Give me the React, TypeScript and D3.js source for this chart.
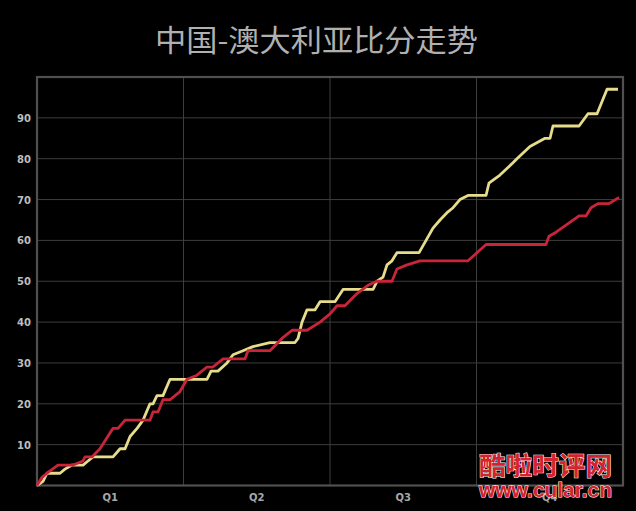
import * as d3 from 'd3';
import React, {useRef, useEffect} from 'react';

// game clock in minutes (4 x 10 min quarters), score at that moment
const ausTimes = [0, 0.41, 0.68, 1.57, 1.91, 2.39, 3.14, 3.48, 3.82, 5.19, 5.67, 6.01, 6.35, 6.83, 7.24, 7.71, 7.92, 8.19, 8.6, 9.08, 11.6, 11.88, 12.35, 12.97, 13.38, 14.06, 14.74, 15.9, 17.61, 17.82, 18.09, 18.43, 18.98, 19.32, 20.34, 20.89, 22.94, 23.21, 23.62, 23.89, 24.23, 24.57, 26.08, 27.03, 27.51, 28.05, 28.4, 28.87, 29.42, 30.65, 30.85, 31.6, 32.49, 32.76, 33.65, 34.68, 35.02, 35.22, 37.0, 37.61, 38.23, 38.91, 39.66];
const ausScores = [0, 1, 3, 3, 4, 5, 5, 6, 7, 7, 9, 9, 12, 14, 16, 20, 20, 22, 22, 26, 26, 28, 28, 30, 32, 33, 34, 35, 35, 36, 40, 43, 43, 45, 45, 48, 48, 50, 51, 54, 55, 57, 57, 63, 65, 67, 68, 70, 71, 71, 74, 76, 79, 80, 83, 85, 85, 88, 88, 91, 91, 97, 97];

const chnTimes = [0, 0.34, 0.68, 1.43, 2.46, 3.14, 3.28, 3.75, 4.3, 5.19, 5.53, 6.01, 7.71, 7.92, 8.26, 8.6, 9.08, 9.76, 10.24, 10.92, 11.6, 12.01, 12.7, 14.2, 14.4, 15.9, 16.72, 17.41, 18.43, 19.32, 20.0, 20.48, 21.02, 21.84, 22.59, 23.21, 24.23, 24.57, 25.26, 26.14, 29.42, 30.65, 34.74, 34.95, 35.43, 37.0, 37.47, 37.82, 38.29, 39.04, 39.73];
const chnScores = [0, 2, 3, 5, 5, 6, 7, 7, 9, 14, 14, 16, 16, 18, 18, 21, 21, 23, 26, 27, 29, 29, 31, 31, 33, 33, 36, 38, 38, 40, 42, 44, 44, 47, 49, 50, 50, 53, 54, 55, 55, 59, 59, 61, 62, 66, 66, 68, 69, 69, 70.5];

const yTicks = [10, 20, 30, 40, 50, 60, 70, 80, 90];
const quarterLabels = ['Q1', 'Q2', 'Q3', 'Q4'];
const quarterEdges = [10, 20, 30];

const W = 636, H = 511;
const left = 37, right = 623, top = 77, bottom = 485.5;

export default function App() {
  const ref = useRef<SVGSVGElement>(null);

  useEffect(() => {
    const svg = d3.select(ref.current);
    svg.selectAll('*').remove();

    const x = d3.scaleLinear().domain([0, 40]).range([left, right]);
    const y = d3.scaleLinear().domain([0, 100]).range([bottom, top]);

    svg.append('rect').attr('width', W).attr('height', H).attr('fill', '#000');

    // title
    svg.append('text')
      .attr('x', 155).attr('y', 51)
      .attr('font-family', '"Noto Sans CJK SC", sans-serif')
      .attr('font-size', 30)
      .attr('textLength', 323)
      .attr('lengthAdjust', 'spacingAndGlyphs')
      .attr('fill', '#b0b0b0')
      .text('中国-澳大利亚比分走势');

    // horizontal grid
    svg.selectAll('line.hgrid')
      .data(yTicks)
      .enter()
      .append('line')
      .attr('x1', left).attr('x2', right)
      .attr('y1', d => y(d)).attr('y2', d => y(d))
      .attr('stroke', '#3d3d3d').attr('stroke-width', 1);

    // vertical quarter lines
    svg.selectAll('line.vgrid')
      .data(quarterEdges)
      .enter()
      .append('line')
      .attr('x1', d => x(d)).attr('x2', d => x(d))
      .attr('y1', top).attr('y2', bottom)
      .attr('stroke', '#3d3d3d').attr('stroke-width', 1);

    // plot frame
    svg.append('rect')
      .attr('x', left).attr('y', top)
      .attr('width', right - left).attr('height', bottom - top)
      .attr('fill', 'none')
      .attr('stroke', '#505050').attr('stroke-width', 2.2);

    // y tick labels
    svg.selectAll('text.ytick')
      .data(yTicks)
      .enter()
      .append('text')
      .attr('x', 31).attr('y', d => y(d) + 4)
      .attr('text-anchor', 'end')
      .attr('font-family', '"DejaVu Sans", sans-serif')
      .attr('font-weight', 'bold')
      .attr('font-size', 10)
      .attr('fill', '#bdbdbd')
      .text(d => d);

    // quarter labels
    svg.selectAll('text.qtick')
      .data(quarterLabels)
      .enter()
      .append('text')
      .attr('x', (_, i) => x(i * 10 + 5))
      .attr('y', 501)
      .attr('text-anchor', 'middle')
      .attr('font-family', '"DejaVu Sans", sans-serif')
      .attr('font-weight', 'bold')
      .attr('font-size', 10)
      .attr('fill', '#a8a8a8')
      .text(d => d);

    const line = d3.line<[number, number]>()
      .x(d => x(d[0]))
      .y(d => y(d[1]));

    const aus = ausTimes.map((t, i) => [t, ausScores[i]] as [number, number]);
    const chn = chnTimes.map((t, i) => [t, chnScores[i]] as [number, number]);

    svg.append('path')
      .datum(aus)
      .attr('d', line)
      .attr('fill', 'none')
      .attr('stroke', '#e6dc8c')
      .attr('stroke-width', 2.8)
      .attr('stroke-linejoin', 'round');

    svg.append('path')
      .datum(chn)
      .attr('d', line)
      .attr('fill', 'none')
      .attr('stroke', '#c9243a')
      .attr('stroke-width', 2.8)
      .attr('stroke-linejoin', 'round');

    // watermark
    const wm = svg.append('g')
      .attr('font-family', '"Noto Sans CJK SC", sans-serif')
      .attr('font-weight', 'bold')
      .attr('fill', '#d42230')
      .attr('stroke', '#ffffff')
      .attr('stroke-width', 1)
      .attr('paint-order', 'stroke');
    wm.append('text')
      .attr('x', 479).attr('y', 475)
      .attr('font-size', 25)
      .attr('textLength', 133)
      .attr('lengthAdjust', 'spacingAndGlyphs')
      .text('酷啦时评网');
    wm.append('text')
      .attr('x', 479).attr('y', 497)
      .attr('font-family', '"Liberation Sans Narrow", "Liberation Sans", sans-serif')
      .attr('font-size', 20)
      .attr('textLength', 133)
      .attr('lengthAdjust', 'spacingAndGlyphs')
      .text('www.cular.cn');
  }, []);

  return (
    <div style={{position: 'fixed', left: 0, top: 0, width: W, height: H, background: '#000'}}>
      <svg ref={ref} width={W} height={H} style={{display: 'block'}}/>
    </div>
  );
}
